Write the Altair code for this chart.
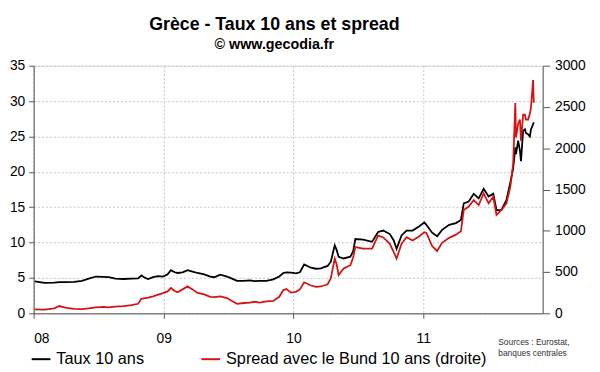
import altair as alt
import pandas as pd

dates = [
    "2008-01-04", "2008-02-01", "2008-02-28", "2008-03-13", "2008-04-02", "2008-04-24", "2008-05-16",
    "2008-06-04", "2008-06-24", "2008-07-16", "2008-07-30", "2008-08-18", "2008-09-10", "2008-10-02",
    "2008-10-21", "2008-10-30", "2008-11-10", "2008-11-18", "2008-12-02", "2008-12-16", "2008-12-30",
    "2009-01-12", "2009-01-21", "2009-02-01", "2009-02-09", "2009-02-23", "2009-03-09", "2009-03-23",
    "2009-04-06", "2009-04-25", "2009-05-12", "2009-05-23", "2009-06-09", "2009-06-28", "2009-07-12",
    "2009-07-26", "2009-08-14", "2009-08-31", "2009-09-14", "2009-09-28", "2009-10-17", "2009-11-05",
    "2009-11-22", "2009-12-03", "2009-12-12", "2009-12-25",
    "2010-01-08", "2010-01-19", "2010-01-31", "2010-02-19", "2010-03-05", "2010-03-19", "2010-04-07",
    "2010-04-16", "2010-04-27", "2010-05-02", "2010-05-08", "2010-05-22", "2010-06-10", "2010-06-18",
    "2010-06-24", "2010-07-16", "2010-08-10", "2010-08-27", "2010-09-10", "2010-09-29", "2010-10-10",
    "2010-10-18", "2010-11-01", "2010-11-15", "2010-12-02", "2010-12-21",
    "2011-01-04", "2011-01-10", "2011-01-26", "2011-02-09", "2011-02-23", "2011-03-15", "2011-04-03",
    "2011-04-17", "2011-04-25", "2011-05-09", "2011-05-23", "2011-06-06", "2011-06-20", "2011-07-04",
    "2011-07-17", "2011-07-26", "2011-08-09", "2011-08-23", "2011-09-03", "2011-09-11", "2011-09-17",
    "2011-09-19", "2011-09-25", "2011-09-30", "2011-10-03", "2011-10-09", "2011-10-14", "2011-10-17",
    "2011-10-23", "2011-10-28", "2011-10-31", "2011-11-06", "2011-11-08",
]

taux = [
    4.5, 4.3, 4.35, 4.4, 4.4, 4.45, 4.6, 4.9, 5.2, 5.15, 5.1, 4.9, 4.85, 4.9, 4.95, 5.35, 5.0, 4.85, 5.1, 5.25, 5.2,
    5.5, 6.1, 5.8, 5.7, 5.8, 6.1, 5.9, 5.7, 5.5, 5.2, 5.1, 5.45, 5.2, 4.9, 4.6, 4.6, 4.65, 4.55, 4.6, 4.6, 4.8,
    5.2, 5.7, 5.8, 5.75,
    5.65, 5.8, 6.9, 6.45, 6.3, 6.35, 6.7, 7.3, 9.6, 9.0, 8.0, 7.75, 8.0, 8.8, 10.5, 10.4, 10.1, 11.5, 11.7, 11.2,
    10.3, 9.1, 11.0, 11.7, 11.7, 12.3,
    12.85, 12.5, 11.4, 10.9, 11.8, 12.5, 12.75, 13.2, 15.55, 15.8, 16.9, 16.25, 17.6, 16.5, 16.9, 14.6, 14.6,
    16.0, 18.5, 20.5, 23.45, 22.5, 24.4, 23.0, 21.5, 25.8, 26.0, 25.5, 25.3, 25.0, 26.0, 26.7, 27.0,
]

spread = [
    48, 45, 60, 88, 65, 55, 50, 60, 72, 78, 72, 80, 88, 100, 115, 175, 185, 190, 205, 227, 245,
    265, 306, 270, 255, 290, 326, 290, 247, 230, 199, 195, 205, 185, 150, 115, 125, 130, 140, 130, 145, 150,
    200, 280, 294, 250,
    260, 290, 376, 337, 320, 325, 352, 424, 663, 600, 464, 544, 583, 680, 803, 783, 783, 941, 922, 842,
    740, 663, 842, 922, 882, 934,
    982, 974, 815, 755, 854, 914, 953, 994, 1252, 1293, 1372, 1312, 1452, 1332, 1412, 1192, 1252,
    1332, 1532, 1810, 2547, 2129, 2300, 2348, 2088, 2407, 2407, 2348, 2348, 2420, 2488, 2826, 2550,
]

series_names = ["Taux 10 ans", "Spread avec le Bund 10 ans (droite)"]
series_colors = ["#000000", "#d41414"]
year_ticks = [2008, 2009, 2010, 2011]
left_ticks = [0, 5, 10, 15, 20, 25, 30, 35]
right_ticks = [0, 500, 1000, 1500, 2000, 2500, 3000]
sources = ["Sources : Eurostat,", "banques centrales"]

df = pd.DataFrame({"date": dates, "taux": taux, "spread": spread})

FONT = "Liberation Sans"

color_scale = alt.Scale(domain=series_names, range=series_colors)
legend = alt.Legend(
    title=None, orient="none", direction="horizontal", legendX=-3, legendY=287,
    symbolType="stroke", symbolSize=361, symbolStrokeWidth=2, labelFontSize=16.5,
    labelFont=FONT, labelColor="#000", labelOffset=5, columnPadding=54, labelLimit=500,
)

x_enc = alt.X(
    "date:T",
    scale=alt.Scale(domain=[alt.DateTime(year=2008, month=1, date=1),
                            alt.DateTime(year=2011, month=12, date=3)]),
    axis=alt.Axis(
        values=[alt.DateTime(year=y, month=1, date=1) for y in year_ticks],
        format="%y", title=None, grid=True, gridDash=[2, 2], gridColor="#c4c4c4",
        tickSize=5, labelPadding=14, labelFontSize=14, labelFont=FONT, labelColor="#000",
        domainColor="#555", tickColor="#555",
    ),
)

color_enc = alt.Color("serie:N", scale=color_scale, legend=legend)

taux_line = alt.Chart(df).transform_calculate(serie=f"'{series_names[0]}'").mark_line(strokeWidth=1.8).encode(
    x=x_enc,
    y=alt.Y(
        "taux:Q", scale=alt.Scale(domain=[0, 35], nice=False),
        axis=alt.Axis(values=left_ticks, title=None, grid=True, gridDash=[2, 2], gridColor="#c4c4c4",
                      tickSize=5, labelPadding=4, labelFontSize=14, labelFont=FONT, labelColor="#000",
                      domainColor="#555", tickColor="#555"),
    ),
    color=color_enc,
)

spread_line = alt.Chart(df).transform_calculate(serie=f"'{series_names[1]}'").mark_line(strokeWidth=1.8).encode(
    x=x_enc,
    y=alt.Y(
        "spread:Q", scale=alt.Scale(domain=[0, 3000], nice=False),
        axis=alt.Axis(values=right_ticks, orient="right", title=None, grid=False, format="d",
                      tickSize=7, labelPadding=5, labelFontSize=14, labelFont=FONT, labelColor="#000",
                      domainColor="#555", tickColor="#555"),
    ),
    color=color_enc,
)

src = alt.Chart(pd.DataFrame({"t": [0]})).mark_text(
    text=sources, align="left", baseline="top", fontSize=8.5, lineHeight=11,
    font=FONT, color="#333",
).encode(x=alt.value(471), y=alt.value(276))

chart = (
    alt.layer(taux_line, spread_line, src)
    .resolve_scale(y="independent")
    .properties(
        width=516, height=251,
        autosize=alt.AutoSizeParams(type="none"),
        padding={"left": 26, "top": 56, "right": 50, "bottom": 57},
        title=alt.TitleParams(
            "Grèce - Taux 10 ans et spread", subtitle="© www.gecodia.fr",
            font=FONT, fontSize=18, fontWeight="bold", color="#000",
            subtitleFont=FONT, subtitleFontSize=14.5, subtitleFontWeight="bold", subtitleColor="#000",
            anchor="middle", dx=-14, offset=7, subtitlePadding=5,
        ),
    )
    .configure_view(stroke="#888", strokeWidth=1)
    .configure(background="white")
)

chart.save("out.html", embed_options={"renderer": "svg", "actions": False})
